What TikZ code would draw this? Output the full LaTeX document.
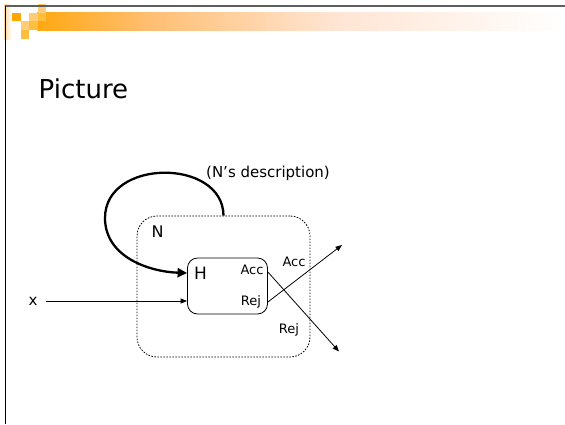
\documentclass[tikz,border=0pt]{standalone}
\usepackage{fontspec}
\setmainfont{DejaVu Sans}
\usetikzlibrary{arrows.meta}

\definecolor{sqdeep}{HTML}{FFA500}
\definecolor{sqmid}{HTML}{FFBE3C}
\definecolor{sqpale}{HTML}{FFCD78}
\definecolor{barA}{HTML}{FFA812}
\definecolor{barB}{HTML}{FFBE72}
\definecolor{barC}{HTML}{FFE4D2}
\definecolor{stripA}{HTML}{FFD7A2}
\definecolor{rulegray}{HTML}{5E5E5E}

\tikzset{
  lbl/.style={inner sep=0pt, font=\fontsize{13}{15}\selectfont},
  bigl/.style={inner sep=0pt, font=\fontsize{16}{19}\selectfont},
  thinarrow/.style={line width=0.8pt, -{Triangle[length=6.5pt,width=5pt]}},
  machine/.style={draw, line width=0.8pt, rounded corners=10pt, inner sep=0pt},
  outerbox/.style={draw, line width=0.8pt, dash pattern=on 1.6pt off 1.4pt,
                   rounded corners=20pt, inner sep=0pt},
  feedback/.style={line width=2.3pt, -{Triangle[length=9.5pt,width=9pt]}},
}

\begin{document}
\begin{tikzpicture}[x=1pt,y=-1pt]
\useasboundingbox (0,0) rectangle (565,424);
\fill[white] (0,0) rectangle (565,424);

% header decoration: fading band and small squares
\shade[left color=stripA, right color=white] (4,4) rectangle (12,39);
\shade[left color=barA, right color=barB] (37,12.7) rectangle (150,30);
\shade[left color=barB, right color=barC] (149.5,12.7) rectangle (330,30);
\shade[left color=barC, right color=white] (329.5,12.7) rectangle (565,30);
\fill[sqdeep] (12,12.7) rectangle (20.7,21.3);
\fill[sqpale] (20.7,21.3) rectangle (29,30);
\fill[sqmid]  (20.7,30) rectangle (29,38.7);
\fill[sqpale] (29,12.7) rectangle (37.7,21.3);
\fill[sqmid]  (29,21.3) rectangle (37.7,30);
\fill[sqpale] (37.7,4) rectangle (46.3,12.7);
\fill[sqmid]  (37.7,12.7) rectangle (46.3,21.3);
\draw[rulegray, line width=1.6pt] (4.5,5.8) -- (565,5.8);
\draw[black, line width=1.1pt] (5.3,5.8) -- (5.3,424);

% title
\node[anchor=base west, inner sep=0pt, font=\fontsize{26}{30}\selectfont] (title) at (38.5,98) {Picture};

% machine N and the decider H inside it
\node[outerbox, minimum width=173pt, minimum height=141pt] (N) at (223.5,286.5) {};
\node[bigl] (nlab) at (157.5,232) {N};
\node[machine, minimum width=80pt, minimum height=56pt] (H) at (227.5,286) {};
\node[inner sep=0pt, font=\fontsize{17}{20}\selectfont] (hlab) at (200.5,273) {H};
\node[lbl] (accin) at (252,270) {Acc};
\node[lbl] (rejin) at (251,302) {Rej};

% input x
\node[inner sep=0pt, font=\fontsize{15}{18}\selectfont] (xlab) at (33,301) {x};
\coordinate (xs) at (46,301);
\coordinate (xe) at (H.west |- xs);
\draw[thinarrow] (xs) -- (xe);

% N's own description fed into H
\node[inner sep=0pt, font=\fontsize{15}{18}\selectfont] (desc) at (268,173) {(N’s description)};
\coordinate (loopleft) at (105,218);
\coordinate (hin) at (H.west |- hlab);
\draw[feedback] (N.north) .. controls (223,158) and (105,158) .. (loopleft)
                to[out=-90,in=178] (hin);

% crossed outputs
\coordinate (accfrom) at (H.east |- 0,272);
\coordinate (rejfrom) at (H.east |- 0,302);
\coordinate (lowtip) at (339,351.5);
\coordinate (hightip) at (342,245);
\draw[thinarrow] (accfrom) -- (lowtip);
\draw[thinarrow] (rejfrom) -- (hightip);
\node[lbl] (accout) at (294,261.5) {Acc};
\node[lbl] (rejout) at (289,330) {Rej};
\end{tikzpicture}
\end{document}
